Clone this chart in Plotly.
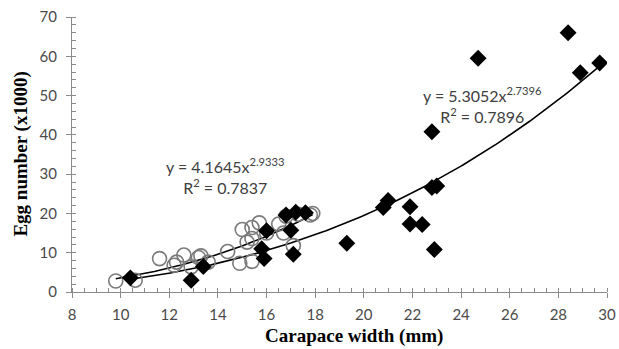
import numpy as np
import plotly.graph_objects as go

# Open circles group
circ_x = [9.8, 10.6, 11.6, 12.2, 12.3, 12.6, 12.9, 13.2, 13.3, 13.6, 14.4, 14.9, 15.0,
          15.2, 15.4, 15.4, 15.4, 15.7, 16.0, 16.5, 16.7, 16.8, 17.1, 17.3, 17.8, 17.9]
circ_y = [2.8, 3.0, 8.5, 6.8, 7.6, 9.4, 6.4, 8.8, 9.2, 7.6, 10.3, 7.3, 15.9,
          12.7, 13.6, 7.8, 16.4, 17.6, 15.0, 17.3, 15.0, 19.3, 11.8, 19.8, 19.6, 20.0]

# Filled diamonds group
dia_x = [10.4, 12.9, 13.4, 15.8, 15.9, 16.0, 16.8, 17.0, 17.1, 17.2, 17.6, 19.3,
         20.8, 21.0, 21.9, 21.9, 22.4, 22.8, 22.8, 23.0, 22.9, 24.7, 28.4, 28.9, 29.7]
dia_y = [3.6, 3.0, 6.5, 11.0, 8.5, 15.6, 19.6, 15.7, 9.6, 20.3, 20.2, 12.4,
         21.5, 23.3, 21.7, 17.3, 17.2, 40.8, 26.6, 27.0, 10.8, 59.5, 66.0, 55.8, 58.3]

# Power trendline coefficients (egg number in thousands)
fit_circ = [4.1645, 2.9333]
fit_dia = [5.3052, 2.7396]

x_ticks = list(range(8, 31, 2))
y_ticks = list(range(0, 71, 10))

def power_curve(xs, coef):
    xx = np.linspace(min(xs), max(xs), 200)
    return xx, coef[0] * xx ** coef[1] / 1000.0

fig = go.Figure()
cx, cy = power_curve(circ_x, fit_circ)
dx, dy = power_curve(dia_x, fit_dia)
fig.add_trace(go.Scatter(x=cx, y=cy, mode="lines", line=dict(color="black", width=1.6),
                         hoverinfo="skip"))
fig.add_trace(go.Scatter(x=dx, y=dy, mode="lines", line=dict(color="black", width=1.6),
                         hoverinfo="skip"))
fig.add_trace(go.Scatter(x=circ_x, y=circ_y, mode="markers",
                         marker=dict(symbol="circle-open", size=14,
                                     line=dict(color="#7a7a7a", width=1.6), color="#7a7a7a")))
fig.add_trace(go.Scatter(x=dia_x, y=dia_y, mode="markers",
                         marker=dict(symbol="diamond", size=13, color="black",
                                     line=dict(width=0))))

tick_font = dict(family="Lato", size=15, color="#4a4a4a")
title_font = dict(family="Liberation Serif", size=19, color="black")

fig.update_layout(
    width=619, height=349,
    margin=dict(l=72, r=12, t=17, b=57),
    paper_bgcolor="white", plot_bgcolor="white",
    showlegend=False,
    xaxis=dict(range=[8, 30], tickvals=x_ticks, ticktext=[str(v) for v in x_ticks],
               automargin=False, ticklabelstandoff=4,
               showgrid=False, zeroline=False, showline=True, linecolor="#8a8a8a",
               linewidth=1.2, ticks="outside", ticklen=5, tickcolor="#8a8a8a",
               tickwidth=1.2, tickfont=tick_font,
               minor=dict(dtick=0.5, ticks="inside", ticklen=4, tickcolor="#8a8a8a",
                          tickwidth=1, showgrid=False)),
    yaxis=dict(range=[0, 70], tickvals=y_ticks, ticktext=[str(v) for v in y_ticks],
               automargin=False, ticklabelstandoff=6,
               showgrid=False, zeroline=False, showline=True, linecolor="#8a8a8a",
               linewidth=1.2, ticks="outside", ticklen=5, tickcolor="#8a8a8a",
               tickwidth=1.2, tickfont=tick_font,
               minor=dict(dtick=2, ticks="inside", ticklen=4, tickcolor="#8a8a8a",
                          tickwidth=1, showgrid=False)),
)

# Axis titles
fig.add_annotation(x=0.527, y=-0.16, xref="paper", yref="paper", showarrow=False,
                   xanchor="center", yanchor="middle", font=title_font,
                   text="<b>Carapace width (mm)</b>")
fig.add_annotation(x=-0.097, y=0.5, xref="paper", yref="paper", showarrow=False,
                   xanchor="center", yanchor="middle", font=title_font, textangle=-90,
                   text="<b>Egg number (x1000)</b>")

ann_font = dict(family="Lato", size=16, color="#404040")
fig.add_annotation(x=14.3, y=29.5, xref="x", yref="y", showarrow=False, font=ann_font,
                   align="center",
                   text="y = %.4fx<sup>%.4f</sup><br>R<sup>2</sup> = 0.7837" % (fit_circ[0], fit_circ[1]))
fig.add_annotation(x=24.9, y=47.5, xref="x", yref="y", showarrow=False, font=ann_font,
                   align="center",
                   text="y = %.4fx<sup>%.4f</sup><br>R<sup>2</sup> = 0.7896" % (fit_dia[0], fit_dia[1]))

fig.write_html("out.html", config={"displayModeBar": False},
               post_script="document.body.style.margin='0px';document.body.style.overflow='hidden';")
